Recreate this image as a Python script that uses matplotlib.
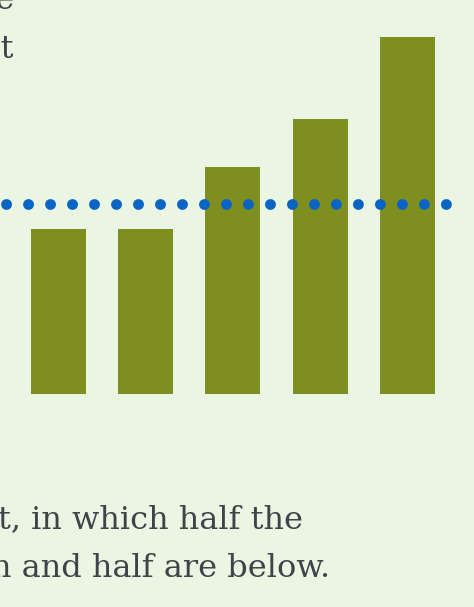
import numpy as np
import matplotlib
matplotlib.use("Agg")
import matplotlib.pyplot as plt

# values
categories = ["A", "B", "C", "D", "E"]
values = [4.5, 4.5, 6.2, 7.5, 9.75]
median_line = 5.2

top_lines = ["The dotted line", "marks the midpoint"]
bottom_lines = ["t, in which half the", "n and half are below."]

bg = "#EBF5E4"
bar_color = "#7E8E1F"
dot_color = "#0A64C4"
text_color = "#3E4548"

W, H = 474, 607
fig = plt.figure(figsize=(W / 100, H / 100), dpi=100, facecolor=bg)

# chart area: full width, baseline at y=394 px from top
ax = fig.add_axes([0, (H - 394) / H, 1, 394 / H])
ax.set_facecolor(bg)
x = np.arange(len(categories))
ax.bar(x, values, width=0.63, color=bar_color, zorder=2)
ax.axhline(median_line, xmin=6 / W, xmax=447 / W, color=dot_color,
           linewidth=7.8, linestyle=(0, (0.01, 2.02)), dash_capstyle="round",
           zorder=3)
ax.set_xlim(-0.67, 4.762)
ax.set_ylim(0, 10.765)
ax.axis("off")

# text around the chart (cut off at the left edge)
for i, s in enumerate(top_lines):
    fig.text(14 / W, 1 - (9 + 49 * i) / H, s, ha="right", va="baseline",
             fontsize=23, family="DejaVu Serif", color=text_color)
for i, s in enumerate(bottom_lines):
    fig.text([-2, -9][i] / W, 1 - (528 + 49 * i) / H, s, ha="left",
             va="baseline", fontsize=23, family="DejaVu Serif",
             color=text_color)

fig.savefig("out.png", dpi=100, facecolor=bg)
